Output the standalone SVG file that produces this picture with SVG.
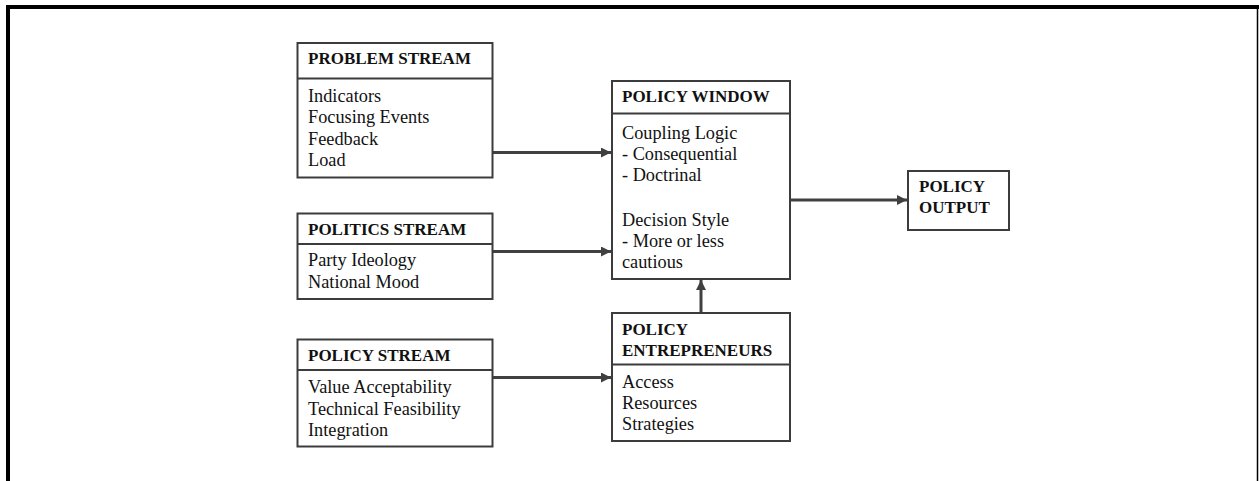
<svg xmlns="http://www.w3.org/2000/svg" width="1259" height="481" viewBox="0 0 1259 481">
<style>
.box{fill:#fff;stroke:#3c3c3c;stroke-width:2}
.div{stroke:#3c3c3c;stroke-width:2}
.h{font-family:"Liberation Serif","Times New Roman",serif;font-weight:bold;font-size:17px;fill:#111}
.t{font-family:"Liberation Serif","Times New Roman",serif;font-size:18.3px;fill:#111}
.c{stroke:#404040;stroke-width:3;fill:none;marker-end:url(#ah)}
</style>
<defs>
<marker id="ah" markerUnits="userSpaceOnUse" markerWidth="12" markerHeight="12" refX="10" refY="5" orient="auto">
<path d="M0,0 L10,5 L0,10 Z" fill="#404040"/>
</marker>
</defs>
<rect width="1259" height="481" fill="#fff"/>
<g id="frame">
<line x1="6" y1="7" x2="1259" y2="7" stroke="#000" stroke-width="4"/>
<line x1="8" y1="5" x2="8" y2="481" stroke="#000" stroke-width="4"/>
<line x1="1257.5" y1="7" x2="1257.5" y2="481" stroke="#000" stroke-width="1.5"/>
</g>
<g id="connectors">
<line class="c" x1="493" y1="152.5" x2="611" y2="152.5"/>
<line class="c" x1="493" y1="251.5" x2="611" y2="251.5"/>
<line class="c" x1="493" y1="377.5" x2="611" y2="377.5"/>
<line class="c" x1="791" y1="200" x2="907" y2="200"/>
<line class="c" x1="701" y1="312" x2="701" y2="280"/>
</g>
<g id="problem">
<rect class="box" x="297.5" y="43" width="195" height="134.5"/>
<line class="div" x1="297.5" y1="78.5" x2="492.5" y2="78.5"/>
<text class="h" x="308" y="63.5">PROBLEM STREAM</text>
<text class="t" x="308" y="101.5">Indicators</text>
<text class="t" x="308" y="123">Focusing Events</text>
<text class="t" x="308" y="144.5">Feedback</text>
<text class="t" x="308" y="166">Load</text>
</g>
<g id="politics">
<rect class="box" x="297.5" y="213.5" width="195" height="85.5"/>
<line class="div" x1="297.5" y1="244" x2="492.5" y2="244"/>
<text class="h" x="308" y="235">POLITICS STREAM</text>
<text class="t" x="308" y="266">Party Ideology</text>
<text class="t" x="308" y="287.5">National Mood</text>
</g>
<g id="policystream">
<rect class="box" x="297.5" y="339.5" width="195" height="107"/>
<line class="div" x1="297.5" y1="370" x2="492.5" y2="370"/>
<text class="h" x="308" y="361">POLICY STREAM</text>
<text class="t" x="308" y="393">Value Acceptability</text>
<text class="t" x="308" y="414.5">Technical Feasibility</text>
<text class="t" x="308" y="436">Integration</text>
</g>
<g id="window">
<rect class="box" x="612" y="81" width="178" height="198"/>
<line class="div" x1="612" y1="113.5" x2="790" y2="113.5"/>
<text class="h" x="622" y="102">POLICY WINDOW</text>
<text class="t" x="622" y="138.5">Coupling Logic</text>
<text class="t" x="622" y="159.5">- Consequential</text>
<text class="t" x="622" y="180.5">- Doctrinal</text>
<text class="t" x="622" y="226">Decision Style</text>
<text class="t" x="622" y="247">- More or less</text>
<text class="t" x="622" y="268">cautious</text>
</g>
<g id="output">
<rect class="box" x="908" y="171" width="101" height="59"/>
<text class="h" x="919" y="192">POLICY</text>
<text class="h" x="919" y="213">OUTPUT</text>
</g>
<g id="entrepreneurs">
<rect class="box" x="612" y="313" width="178" height="128"/>
<line class="div" x1="612" y1="364.5" x2="790" y2="364.5"/>
<text class="h" x="622" y="335">POLICY</text>
<text class="h" x="622" y="355.5">ENTREPRENEURS</text>
<text class="t" x="622" y="387.5">Access</text>
<text class="t" x="622" y="409">Resources</text>
<text class="t" x="622" y="430">Strategies</text>
</g>
</svg>
